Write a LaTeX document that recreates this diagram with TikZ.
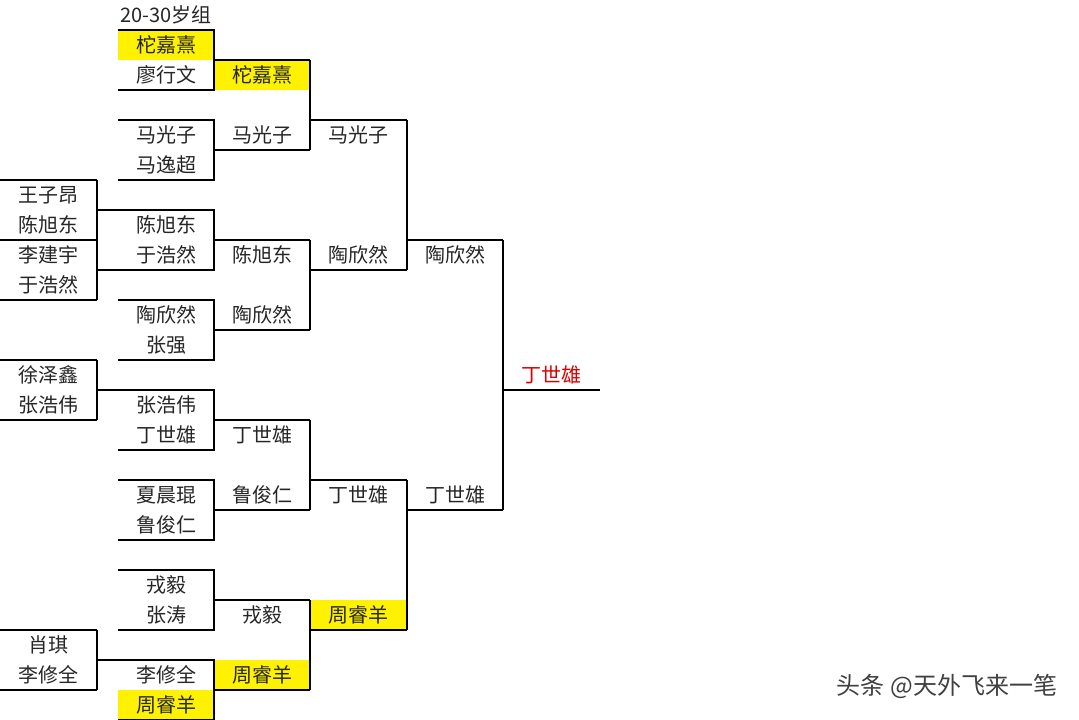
\documentclass[tikz,border=0pt]{standalone}
\usepackage{fontspec}
\setmainfont{Noto Sans CJK SC}
\begin{document}
\begin{tikzpicture}[x=1pt,y=-1pt,line width=2pt,
  txt/.style={inner sep=0pt,font=\fontsize{20}{20}\selectfont,text=black!85}]
\useasboundingbox (0,0) rectangle (1079,720);
\fill[white] (0,0) rectangle (1079,720);
% yellow
\fill[yellow] (118,30) rectangle (214,60);
\fill[yellow] (214,60) rectangle (310,90);
\fill[yellow] (310,600) rectangle (407,630);
\fill[yellow] (214,660) rectangle (310,690);
\fill[yellow] (118,690) rectangle (214,720);
% column A
\foreach \y in {180,240,300,360,420,630,690} \draw (0,\y) -- (97,\y);
\draw (97,180) -- (97,300);
\draw (97,360) -- (97,420);
\draw (97,630) -- (97,690);
\foreach \y in {210,270,390,660} \draw (97,\y) -- (118,\y);
% column B
\foreach \t in {30,120,210,300,390,480,570,660} {
  \draw (118,\t) -- (214,\t) -- (214,\t+60) -- (118,\t+60);
  \draw (214,\t+30) -- (310,\t+30);
}
\foreach \t in {60,240,420,600} \draw (310,\t) -- (310,\t+90);
% column C-D
\foreach \y in {120,270,480,630} \draw (310,\y) -- (407,\y);
\draw (407,120) -- (407,270);
\draw (407,480) -- (407,630);
\foreach \y in {240,510} \draw (407,\y) -- (503,\y);
\draw (503,240) -- (503,510);
\draw (503,390) -- (600,390);
% texts
\node[txt,anchor=west] (title) at (119,15) {20-30岁组};
\foreach \r/\s [count=\i] in {6/王子昂,7/陈旭东,8/李建宇,9/于浩然,12/徐泽鑫,13/张浩伟,21/肖琪,22/李修全}
  \node[txt] (a\i) at (48.5,30*\r+15) {\s};
\foreach \r/\s [count=\i] in {1/柁嘉熹,2/廖行文,4/马光子,5/马逸超,7/陈旭东,8/于浩然,10/陶欣然,11/张强,13/张浩伟,14/丁世雄,16/夏晨琨,17/鲁俊仁,19/戎毅,20/张涛,22/李修全,23/周睿羊}
  \node[txt] (b\i) at (166,30*\r+15) {\s};
\foreach \r/\s [count=\i] in {2/柁嘉熹,4/马光子,8/陈旭东,10/陶欣然,14/丁世雄,16/鲁俊仁,20/戎毅,22/周睿羊}
  \node[txt] (c\i) at (262,30*\r+15) {\s};
\foreach \r/\s [count=\i] in {4/马光子,8/陶欣然,16/丁世雄,20/周睿羊}
  \node[txt] (d\i) at (358.5,30*\r+15) {\s};
\foreach \r/\s [count=\i] in {8/陶欣然,16/丁世雄}
  \node[txt] (e\i) at (455,30*\r+15) {\s};
\node[txt,text=red!85!black] (f1) at (551,375) {丁世雄};
\node[txt,anchor=east,text=black!75,font=\fontsize{24}{24}\selectfont] (wm) at (1058,686) {头条 @天外飞来一笔};
\end{tikzpicture}
\end{document}
